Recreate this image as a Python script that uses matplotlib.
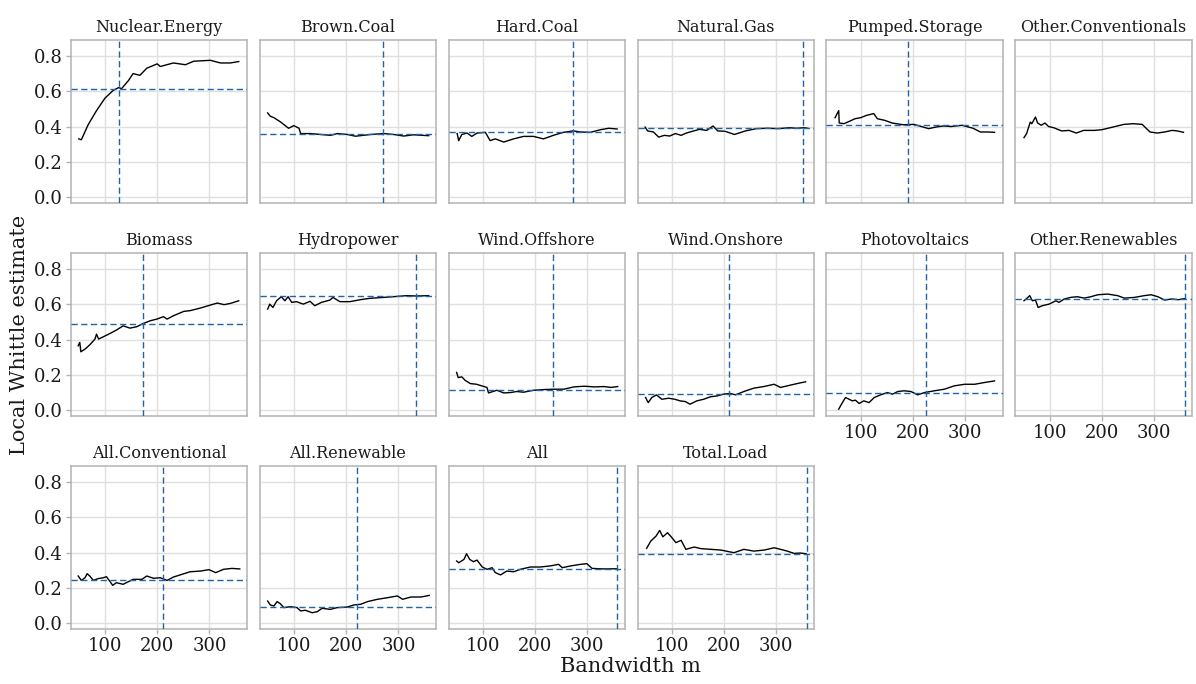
import matplotlib
matplotlib.use("Agg")
import matplotlib.pyplot as plt

plt.rcParams['font.family'] = ['DejaVu Serif']

# -------- data --------
panels = ["Nuclear.Energy", "Brown.Coal", "Hard.Coal", "Natural.Gas",
          "Pumped.Storage", "Other.Conventionals", "Biomass", "Hydropower",
          "Wind.Offshore", "Wind.Onshore", "Photovoltaics", "Other.Renewables",
          "All.Conventional", "All.Renewable", "All", "Total.Load"]

# selected bandwidth (vertical) and estimate at it (horizontal); None = not shown
sel_m = [127.6, 271, 272.6, 351, 190, None, 173, 334,
         235, 210, 225, 358, 212, 220, 357, 358]
sel_d = [0.613, 0.36, 0.369, 0.393, 0.407, None, 0.49, 0.649,
         0.117, 0.091, 0.096, 0.628, 0.247, 0.094, 0.306, 0.394]

nuclear_m = [50, 55, 68, 84, 100, 116, 126, 132, 145, 154, 167, 180, 200, 206,
             231, 254, 270, 302, 321, 340, 356]
nuclear_d = [0.33, 0.325, 0.41, 0.49, 0.56, 0.605, 0.62, 0.615, 0.66, 0.70, 0.69,
             0.73, 0.755, 0.74, 0.76, 0.75, 0.77, 0.775, 0.76, 0.76, 0.768]

brown_m = [50, 55, 62, 75, 90, 100, 110, 113, 132, 151, 170, 183, 202, 218,
           247, 272, 291, 310, 329, 358]
brown_d = [0.477, 0.458, 0.45, 0.425, 0.39, 0.405, 0.39, 0.36, 0.36, 0.355,
           0.35, 0.36, 0.355, 0.345, 0.355, 0.36, 0.355, 0.346, 0.353, 0.348]

hard_m = [51, 54, 60, 70, 79, 89, 105, 114, 124, 140, 159, 178, 197, 216, 235,
          254, 273, 287, 306, 325, 341, 357]
hard_d = [0.36, 0.32, 0.355, 0.363, 0.344, 0.363, 0.367, 0.32, 0.33, 0.312,
          0.33, 0.344, 0.344, 0.33, 0.35, 0.367, 0.375, 0.369, 0.367, 0.382,
          0.39, 0.386]

gas_m = [49, 54, 65, 75, 86, 96, 107, 118, 128, 142, 153, 167, 179, 188, 202,
         220, 241, 262, 283, 304, 325, 339, 353, 360]
gas_d = [0.397, 0.375, 0.369, 0.34, 0.35, 0.346, 0.36, 0.35, 0.363, 0.375,
         0.384, 0.378, 0.403, 0.375, 0.373, 0.355, 0.375, 0.388, 0.39, 0.388,
         0.393, 0.39, 0.393, 0.39]

pumped_m = [51, 58, 59, 68, 79, 89, 100, 111, 125, 132, 146, 160, 181, 202,
            216, 230, 244, 258, 273, 294, 315, 329, 343, 356]
pumped_d = [0.45, 0.49, 0.42, 0.416, 0.43, 0.444, 0.45, 0.463, 0.473, 0.444,
            0.435, 0.42, 0.41, 0.412, 0.40, 0.388, 0.397, 0.403, 0.40, 0.407,
            0.39, 0.369, 0.369, 0.367]

otherconv_m = [51, 56, 63, 66, 73, 77, 84, 91, 98, 108, 123, 137, 151, 165,
               186, 200, 221, 242, 260, 277, 292, 306, 320, 334, 344, 356]
otherconv_d = [0.337, 0.36, 0.425, 0.416, 0.454, 0.42, 0.407, 0.42, 0.40,
               0.393, 0.375, 0.378, 0.363, 0.378, 0.378, 0.382, 0.397, 0.412,
               0.416, 0.412, 0.369, 0.363, 0.369, 0.378, 0.375, 0.367]

biomass_m = [49, 52, 54, 62, 71, 81, 84, 88, 97, 110, 122, 135, 148, 161, 174,
             187, 199, 212, 219, 231, 251, 263, 283, 302, 315, 328, 340, 356]
biomass_d = [0.365, 0.384, 0.331, 0.346, 0.37, 0.403, 0.431, 0.403, 0.416,
             0.435, 0.454, 0.478, 0.465, 0.473, 0.492, 0.507, 0.516, 0.53,
             0.516, 0.535, 0.56, 0.564, 0.579, 0.596, 0.607, 0.598, 0.605, 0.62]

hydro_m = [50, 54, 60, 67, 76, 83, 89, 96, 105, 118, 131, 140, 153, 169, 175,
           188, 207, 227, 246, 271, 290, 316, 335, 358]
hydro_d = [0.573, 0.601, 0.582, 0.62, 0.643, 0.62, 0.643, 0.611, 0.615, 0.601,
           0.617, 0.592, 0.611, 0.624, 0.639, 0.615, 0.615, 0.626, 0.634,
           0.639, 0.643, 0.649, 0.647, 0.649]

woff_m = [50, 53, 60, 66, 76, 88, 98, 108, 111, 127, 140, 153, 165, 178, 197,
          217, 236, 255, 274, 294, 313, 332, 345, 358]
woff_d = [0.214, 0.185, 0.189, 0.17, 0.151, 0.147, 0.138, 0.129, 0.098, 0.113,
          0.098, 0.10, 0.106, 0.102, 0.113, 0.117, 0.119, 0.119, 0.132, 0.136,
          0.132, 0.134, 0.129, 0.134]

won_m = [50, 55, 62, 71, 81, 94, 106, 116, 126, 135, 148, 161, 174, 187, 199,
         212, 222, 238, 257, 276, 296, 308, 321, 340, 356]
won_d = [0.072, 0.043, 0.072, 0.087, 0.062, 0.068, 0.062, 0.053, 0.049, 0.034,
         0.053, 0.062, 0.076, 0.081, 0.091, 0.095, 0.087, 0.106, 0.125, 0.134,
         0.147, 0.129, 0.138, 0.151, 0.161]

pv_m = [58, 65, 71, 78, 84, 90, 97, 106, 116, 126, 138, 151, 161, 171, 183,
        196, 209, 222, 241, 260, 279, 299, 318, 337, 356]
pv_d = [0.006, 0.043, 0.072, 0.062, 0.053, 0.057, 0.038, 0.053, 0.043, 0.072,
        0.087, 0.10, 0.091, 0.106, 0.11, 0.106, 0.087, 0.10, 0.11, 0.119,
        0.138, 0.147, 0.147, 0.157, 0.166]

otherren_m = [51, 57, 62, 67, 73, 78, 86, 99, 112, 118, 128, 140, 153, 166,
              179, 192, 211, 230, 243, 262, 281, 294, 307, 320, 333, 346, 358]
otherren_d = [0.62, 0.635, 0.649, 0.62, 0.624, 0.582, 0.592, 0.601, 0.62,
              0.611, 0.63, 0.639, 0.643, 0.635, 0.643, 0.654, 0.658, 0.649,
              0.635, 0.639, 0.649, 0.654, 0.643, 0.624, 0.63, 0.626, 0.632]

allconv_m = [49, 55, 62, 66, 71, 78, 87, 97, 103, 110, 115, 122, 135, 145, 154,
             171, 180, 193, 206, 219, 231, 247, 263, 283, 299, 312, 327, 343, 358]
allconv_d = [0.268, 0.243, 0.258, 0.281, 0.268, 0.243, 0.253, 0.258, 0.264,
             0.236, 0.215, 0.23, 0.221, 0.236, 0.249, 0.249, 0.268, 0.255,
             0.258, 0.243, 0.262, 0.277, 0.292, 0.296, 0.304, 0.287, 0.306,
             0.311, 0.308]

allren_m = [50, 55, 62, 68, 74, 81, 94, 106, 113, 122, 135, 145, 154, 170, 183,
            202, 215, 228, 241, 260, 279, 298, 308, 324, 343, 359]
allren_d = [0.126, 0.104, 0.098, 0.123, 0.111, 0.089, 0.094, 0.089, 0.07,
            0.074, 0.06, 0.066, 0.085, 0.079, 0.089, 0.092, 0.104, 0.108,
            0.123, 0.136, 0.145, 0.155, 0.136, 0.149, 0.149, 0.158]

all_m = [50, 54, 64, 69, 75, 82, 89, 99, 108, 118, 124, 134, 146, 159, 172, 191,
         210, 229, 245, 252, 268, 287, 299, 309, 331, 357]
all_d = [0.353, 0.343, 0.362, 0.394, 0.362, 0.349, 0.358, 0.319, 0.306, 0.315,
         0.287, 0.274, 0.296, 0.292, 0.306, 0.319, 0.319, 0.325, 0.334, 0.315,
         0.325, 0.334, 0.338, 0.311, 0.308, 0.309]

load_m = [52, 60, 70, 77, 83, 92, 99, 108, 118, 127, 143, 156, 175, 194, 219,
          238, 257, 277, 296, 308, 321, 334, 346, 357]
load_d = [0.425, 0.466, 0.494, 0.526, 0.49, 0.513, 0.49, 0.457, 0.47, 0.419,
          0.432, 0.423, 0.419, 0.415, 0.40, 0.419, 0.409, 0.415, 0.428, 0.419,
          0.409, 0.396, 0.398, 0.394]

series = [(nuclear_m, nuclear_d), (brown_m, brown_d), (hard_m, hard_d),
          (gas_m, gas_d), (pumped_m, pumped_d), (otherconv_m, otherconv_d),
          (biomass_m, biomass_d), (hydro_m, hydro_d), (woff_m, woff_d),
          (won_m, won_d), (pv_m, pv_d), (otherren_m, otherren_d),
          (allconv_m, allconv_d), (allren_m, allren_d), (all_m, all_d),
          (load_m, load_d)]

# -------- figure --------
blue = "#2263a8"
grid_col = "#e0e0e0"
border_col = "#b3b3b3"

fig, axes = plt.subplots(3, 6, figsize=(11.96, 6.84), dpi=100, sharex=True, sharey=True)
fig.subplots_adjust(left=0.0591, right=0.9967, top=0.9415, bottom=0.0797,
                    wspace=0.0697, hspace=0.305)

ncols = 6
n = len(panels)
for i in range(18):
    ax = axes[i // ncols][i % ncols]
    if i >= n:
        ax.set_visible(False)
        continue
    x, y = series[i]
    ax.set_xlim(34.6, 372.4)
    ax.set_ylim(-0.035, 0.89)
    ax.set_xticks([100, 200, 300])
    ax.set_yticks([0.0, 0.2, 0.4, 0.6, 0.8])
    ax.grid(True, color=grid_col, linewidth=1.0)
    ax.set_axisbelow(True)
    for s in ax.spines.values():
        s.set_color(border_col)
        s.set_linewidth(1.1)
    ax.plot(x, y, color="black", linewidth=1.0, zorder=3)
    if sel_d[i] is not None:
        ax.axhline(sel_d[i], color=blue, linewidth=1.0, dashes=(4.5, 2.5), zorder=4)
        ax.axvline(sel_m[i], color=blue, linewidth=1.0, dashes=(4.5, 2.5), zorder=4)
    ax.set_title(panels[i], fontsize=11.5, color="#1a1a1a", pad=6)

    col = i % ncols
    bottom_edge = (i + ncols >= n)
    ax.tick_params(axis="both", colors=border_col, length=3.5, width=1.0,
                   labelcolor="#1a1a1a", labelsize=13)
    ax.tick_params(axis="x", bottom=bottom_edge, labelbottom=bottom_edge, pad=2)
    ax.tick_params(axis="y", left=(col == 0), labelleft=(col == 0), pad=2)
    ax.set_yticklabels(["0.0", "0.2", "0.4", "0.6", "0.8"])

fig.text(0.5275, 0.012, "Bandwidth m", ha="center", va="bottom", fontsize=15, color="#1a1a1a")
fig.text(0.008, 0.51, "Local Whittle estimate", ha="left", va="center",
         rotation=90, fontsize=15, color="#1a1a1a")

fig.savefig("out.png", dpi=100)
